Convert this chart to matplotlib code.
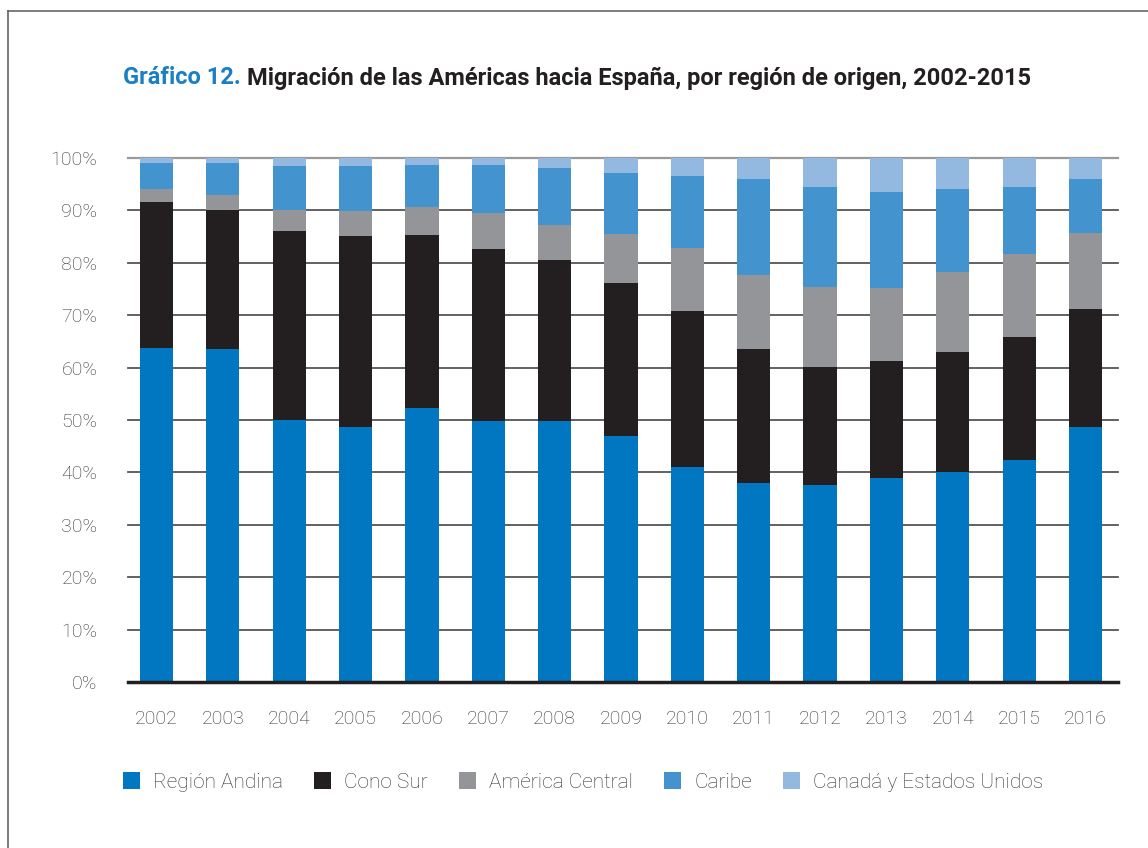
import numpy as np
import matplotlib.pyplot as plt
from matplotlib.patches import Patch
from matplotlib.lines import Line2D

years = ['2002', '2003', '2004', '2005', '2006', '2007', '2008', '2009',
         '2010', '2011', '2012', '2013', '2014', '2015', '2016']

region_andina = [63.7, 63.5, 50.0, 48.7, 52.3, 49.8, 49.8, 46.9, 41.0, 38.0, 37.6, 38.9, 40.1, 42.4, 48.7]
cono_sur = [27.9, 26.6, 36.1, 36.4, 33.0, 32.8, 30.7, 29.2, 29.8, 25.5, 22.6, 22.4, 22.9, 23.5, 22.4]
america_central = [2.5, 2.8, 4.0, 4.8, 5.3, 6.9, 6.7, 9.4, 12.0, 14.2, 15.2, 13.8, 15.3, 15.8, 14.5]
caribe = [5.0, 6.2, 8.4, 8.6, 8.1, 9.2, 10.9, 11.7, 13.8, 18.2, 19.1, 18.5, 15.8, 12.8, 10.3]
canada_eeuu = [0.9, 0.9, 1.5, 1.5, 1.3, 1.3, 1.9, 2.8, 3.4, 4.1, 5.5, 6.4, 5.9, 5.5, 4.1]

series = [region_andina, cono_sur, america_central, caribe, canada_eeuu]
labels = ['Región Andina', 'Cono Sur', 'América Central', 'Caribe', 'Canadá y Estados Unidos']
colors = ['#0077c0', '#231f20', '#939598', '#4393cf', '#93b9e1']

plt.rcParams['font.family'] = ['Roboto', 'DejaVu Sans']

fig = plt.figure(figsize=(11.48, 8.48), dpi=100)
ax = fig.add_axes([128 / 1148, 1 - 682 / 848, 990 / 1148, 524 / 848])

x = np.arange(len(years))
bottom = np.zeros(len(years))
for vals, lab, col in zip(series, labels, colors):
    ax.bar(x, vals, width=0.5, bottom=bottom, color=col, label=lab, zorder=2)
    bottom += np.array(vals)

ax.set_xlim(-0.43, len(years) - 1 + 0.49)
ax.set_ylim(0, 100)

# gridlines
for t in range(10, 101, 10):
    gc = '#9a9a9a' if t == 100 else '#555555'
    ax.axhline(t, color=gc, lw=1.6 if t == 100 else 1.3, zorder=1, clip_on=False)
ax.axhline(0, color='#231f20', lw=2.5, zorder=3, clip_on=False)

for s in ax.spines.values():
    s.set_visible(False)

ax.set_yticks(range(0, 101, 10))
ax.set_yticklabels([f'{t}%' for t in range(0, 101, 10)])
ax.set_xticks(x)
ax.set_xticklabels(years)
ax.tick_params(axis='y', length=0, pad=22, labelsize=14, labelcolor='#333333')
ax.tick_params(axis='x', length=0, pad=20, labelsize=14, labelcolor='#333333')
for lbl in ax.get_xticklabels() + ax.get_yticklabels():
    lbl.set_fontweight('light')

# title in two colours
t1 = fig.text(123 / 1148, 1 - 78 / 848, 'Gráfico 12.', color='#1a7fc4',
              fontsize=17, fontweight='bold', va='center', ha='left')
fig.canvas.draw()
bb = t1.get_window_extent()
fig.text((bb.x1 + 6) / 1148, 1 - 78 / 848,
         'Migración de las Américas hacia España, por región de origen, 2002-2015',
         color='#231f20', fontsize=17, fontweight='bold', va='center', ha='left')

# legend
handles = [Patch(facecolor=c, edgecolor='none') for c in colors]
leg = fig.legend(handles, labels, loc='center left', bbox_to_anchor=(123 / 1148, 1 - 782 / 848),
                 ncol=5, frameon=False, fontsize=15, handlelength=0.82, handleheight=0.9,
                 handletextpad=0.62, columnspacing=1.5, borderaxespad=0, borderpad=0)
for txt in leg.get_texts():
    txt.set_color('#333333')
    txt.set_fontweight('light')

# outer frame
fig.add_artist(Line2D([8 / 1148, 8 / 1148], [0, 1 - 11 / 848], color='#666666', lw=1.2,
                      transform=fig.transFigure))
fig.add_artist(Line2D([8 / 1148, 1], [1 - 11 / 848, 1 - 11 / 848], color='#666666', lw=1.2,
                      transform=fig.transFigure))

fig.savefig('out.png', dpi=100)
